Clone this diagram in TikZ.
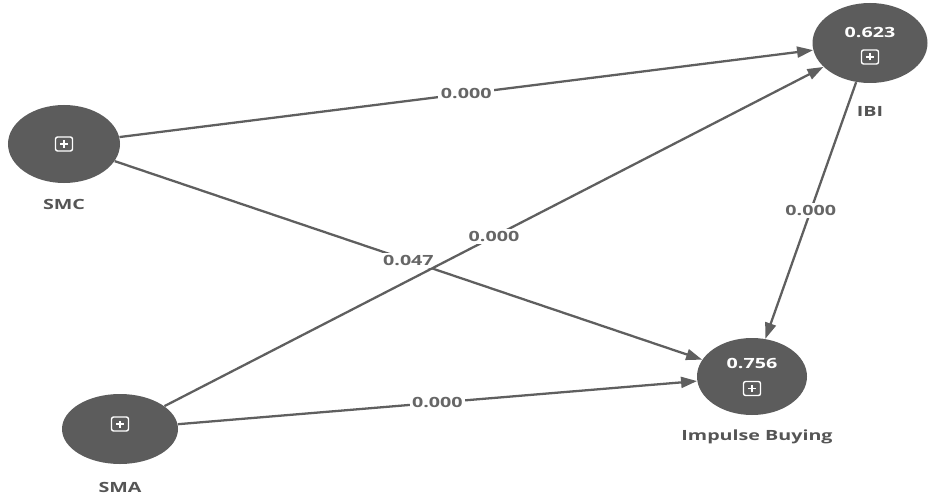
\documentclass[tikz,border=0pt]{standalone}
\usepackage{fontspec}
\setmainfont{Open Sans}
\usetikzlibrary{arrows.meta, positioning, shapes.geometric}
\newcommand{\widetxt}[1]{\scalebox{1.4}[1]{#1}}
\definecolor{lvgray}{HTML}{5C5C5C}
\definecolor{pathgray}{HTML}{5F5F5F}
\definecolor{txtgray}{HTML}{555555}

\begin{document}
\begin{tikzpicture}[
            latent/.style={ellipse, fill=lvgray, inner sep=0pt},
            rsq/.style={text=white, font=\fontsize{8}{9}\selectfont\bfseries, inner sep=0pt},
            icon/.style={draw=white, line width=0.8pt, rounded corners=1.2pt, minimum width=0.34cm, minimum height=0.28cm, inner sep=0pt,
                path picture={
                    \draw[white, line width=0.7pt] ([xshift=-0.08cm]path picture bounding box.center) -- ([xshift=0.08cm]path picture bounding box.center);
                    \draw[white, line width=0.7pt] ([yshift=-0.07cm]path picture bounding box.center) -- ([yshift=0.07cm]path picture bounding box.center);
                }},
            lvlabel/.style={text=txtgray, font=\fontsize{8}{9}\selectfont\bfseries, inner sep=0pt},
            arrow/.style={-{Triangle[length=0.32cm, width=0.22cm]}, draw=pathgray, line width=1.3pt},
            coef/.style={midway, fill=white, text=txtgray!90, font=\fontsize{8}{9}\selectfont\bfseries, inner sep=1.5pt}
        ]
        \useasboundingbox (0,0) rectangle (18.74,9.98);
        % latent variables
        \node[latent, minimum width=2.24cm, minimum height=1.56cm] (smc) at (1.28,7.10) {};
        \node[latent, minimum width=2.32cm, minimum height=1.40cm] (sma) at (2.40,1.40) {};
        \node[latent, minimum width=2.30cm, minimum height=1.60cm] (ibi) at (17.40,9.12) {};
        \node[latent, minimum width=2.20cm, minimum height=1.54cm] (ib) at (15.04,2.45) {};
        % icons and R-squared values
        \node[icon] (smc-icon) at (smc.center) {};
        \node[icon] (sma-icon) at ([yshift=0.1cm]sma.center) {};
        \node[rsq] (ibi-r2) at ([yshift=0.22cm]ibi.center) {\widetxt{0.623}};
        \node[icon] (ibi-icon) at ([yshift=-0.28cm]ibi.center) {};
        \node[rsq] (ib-r2) at ([yshift=0.26cm]ib.center) {\widetxt{0.756}};
        \node[icon] (ib-icon) at ([yshift=-0.24cm]ib.center) {};
        % names
        \node[lvlabel, below=0.32cm of smc] (smc-label) {\widetxt{SMC}};
        \node[lvlabel, below=0.36cm of sma] (sma-label) {\widetxt{SMA}};
        \node[lvlabel, below=0.45cm of ibi] (ibi-label) {\widetxt{IBI}};
        \node[lvlabel, below=0.28cm of ib, xshift=0.1cm] (ib-label) {\widetxt{Impulse Buying}};
        % paths
        \draw[arrow] (smc) -- node[coef] {\widetxt{0.000}} (ibi);
        \draw[arrow] (smc) -- node[coef] {\widetxt{0.047}} (ib);
        \draw[arrow] (sma) -- node[coef] {\widetxt{0.000}} (ibi);
        \draw[arrow] (sma) -- node[coef] {\widetxt{0.000}} (ib);
        \draw[arrow] (ibi) -- node[coef] {\widetxt{0.000}} (ib);
\end{tikzpicture}
\end{document}
